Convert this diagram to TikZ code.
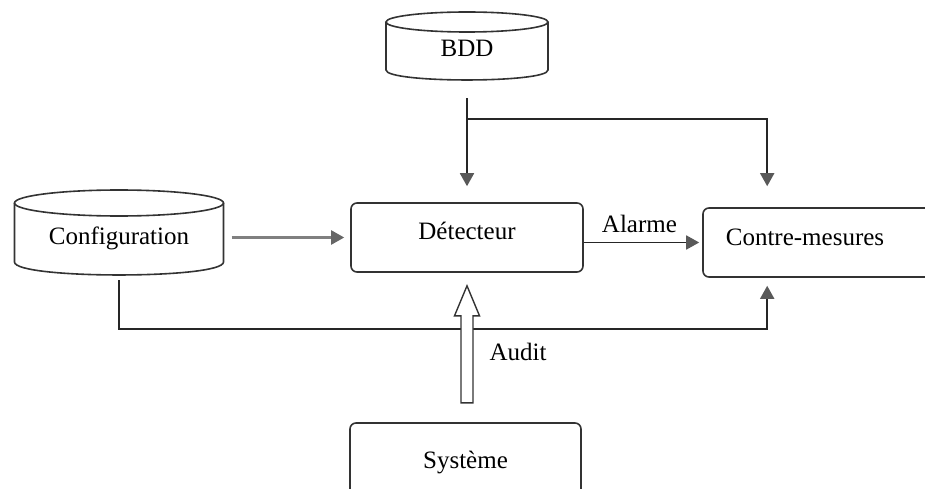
\documentclass[tikz,border=0pt]{standalone}
\usepackage{fontspec}
\setmainfont{Liberation Serif}
\usetikzlibrary{arrows.meta,calc}
\tikzset{
  outline/.style={draw=black!80, line width=1.6pt},
  cylarea/.style={inner sep=0pt},
  rbox/.style={outline, rounded corners=6pt, minimum height=69pt, inner sep=0pt},
  link/.style={draw=black!85, line width=1.8pt,
    -{Triangle[width=14pt,length=13pt,color=black!65]}},
  softlink/.style={draw=black!50, line width=2.2pt,
    -{Triangle[width=14pt,length=13pt,color=black!60]}},
}
\begin{document}
\begin{tikzpicture}[x=1pt,y=-1pt,font=\fontsize{25}{30}\selectfont]
\useasboundingbox (0,0) rectangle (925,489);
\clip (0,0) rectangle (925,489);

% blocks
\node[cylarea, minimum width=162pt, minimum height=68pt, label={[yshift=-2pt]center:BDD}] (bdd) at (467,46) {};
\node[cylarea, minimum width=209pt, minimum height=85pt, label={[yshift=-6pt]center:Configuration}] (conf) at (119,232.5) {};
\node[rbox, minimum width=232pt, label={[yshift=7pt]center:Détecteur}] (det) at (467,237.5) {};
\node[rbox, minimum width=242pt, label={[xshift=-19pt,yshift=5pt]center:Contre-mesures}] (cm) at (824,242.5) {};
\node[rbox, minimum width=231pt, minimum height=80pt] (sys) at (465.5,463) {Système};

% database cylinders
\draw[outline] (467,22) ellipse [x radius=81pt, y radius=10pt];
\draw[outline] (386,22) -- (386,70) .. controls (386,83.3) and (548,83.3) .. (548,70) -- (548,22);
\draw[outline] (119,203) ellipse [x radius=104.5pt, y radius=13pt];
\draw[outline] (14.5,203) -- (14.5,262) .. controls (14.5,279.3) and (223.5,279.3) .. (223.5,262) -- (223.5,203);

% signature base feeding detector and counter-measures
\draw[link, shorten <=18pt, shorten >=16pt] (bdd.south) -- (det.north);
\draw[link, shorten >=21pt] ($(bdd.south)+(0,39)$) -| ($(cm.north west)+(65,0)$);

% configuration links
\draw[softlink, shorten <=8pt, shorten >=6pt] (conf.east |- det.west) -- (det.west);
\draw[link, shorten <=5pt, shorten >=8pt] (conf.south) -- ++(0,54) -| ($(cm.south west)+(65,0)$);

% alarm
\draw[link, shorten >=3pt] (det.east |- cm.west) -- node[above=6pt, pos=0.47] (alarme) {Alarme} (cm.west);

% audit block arrow from the system
\coordinate (tip) at ($(det.south)+(0,13)$);
\draw[outline, line width=1.4pt, fill=white] (tip) -- ++(12.5,30) -- ++(-6.5,0) -- ++(0,87)
  -- ++(-12,0) -- ++(0,-87) -- ++(-6.5,0) -- cycle;
\node[anchor=west] (audit) at (486,352) {Audit};
\end{tikzpicture}
\end{document}
